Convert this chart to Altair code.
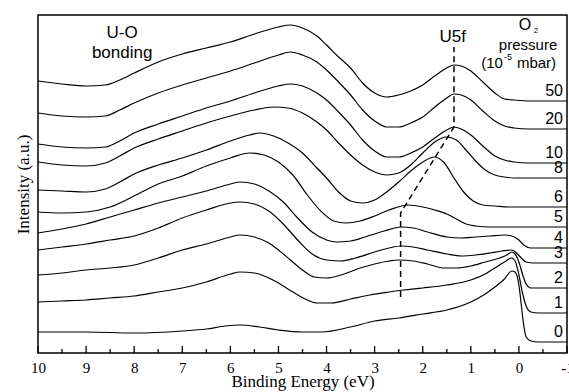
import altair as alt
import pandas as pd

# ---- data (binding energy in eV, intensity in a.u.) ----
E_TOP = [10, 9.5, 9, 8.6, 8.3, 8, 7.5, 7, 6.5, 6, 5.5, 5, 4.75, 4.5, 4.2, 4, 3.75, 3.5, 3.25, 3,
         2.75, 2.5, 2.25, 2, 1.75, 1.5, 1.35, 1.2, 1, 0.75, 0.5, 0.3, 0.1, -0.2, -1]
I_50 = [272, 269, 267, 268, 273, 280, 291, 299, 305, 311, 319, 326, 328, 325, 317, 308, 296, 285, 270, 260,
        256, 258, 262, 268, 277, 285, 288, 287, 282, 271, 260, 254, 253, 252, 252]
I_20 = [240, 237, 236, 237, 243, 250, 260, 268, 275, 282, 290, 298, 301, 298, 291, 283, 271, 258, 243, 232,
        226, 226, 230, 236, 246, 255, 259, 258, 253, 242, 232, 227, 225, 224, 224]
I_10 = [209, 206, 205, 206, 212, 220, 229, 237, 245, 252, 260, 267, 269, 267, 260, 253, 241, 228, 213, 202,
        196, 196, 200, 206, 215, 223, 226, 224, 218, 207, 197, 193, 191, 190, 190]

E_8 = [10, 9.5, 9, 8.6, 8.3, 8, 7.5, 7, 6.5, 6, 5.5, 5.1, 4.8, 4.5, 4.2, 4, 3.75, 3.5, 3.25, 3,
       2.75, 2.5, 2.25, 2, 1.75, 1.5, 1.3, 1.1, 0.9, 0.7, 0.5, 0.3, 0.1, -1]
I_8 = [191, 188, 187, 190, 197, 205, 214, 222, 230, 237, 243, 246, 245, 240, 231, 223, 210, 198, 188, 181,
       178, 180, 188, 200, 211, 216, 213, 203, 192, 183, 178, 176, 175, 175]

E_6 = [10, 9.5, 9, 8.6, 8.3, 8, 7.5, 7, 6.5, 6, 5.6, 5.4, 5.1, 4.8, 4.5, 4.2, 4, 3.75, 3.5, 3.25, 3,
       2.75, 2.5, 2.25, 2, 1.75, 1.55, 1.35, 1.15, 0.95, 0.75, 0.5, 0.2, -1]
I_6 = [163, 162, 161, 164, 171, 179, 188, 195, 203, 212, 218, 220, 217, 210, 200, 185, 175, 161, 152, 150, 153,
       161, 171, 182, 191, 196, 190, 175, 161, 152, 148, 147, 146, 146]

E_5 = [10, 9.5, 9, 8.5, 8, 7.5, 7, 6.5, 6, 5.6, 5.3, 5, 4.7, 4.4, 4.1, 3.85, 3.6, 3.3, 3, 2.7, 2.3,
       2, 1.75, 1.5, 1.3, 1.1, 0.9, 0.6, -1]
I_5 = [141, 140, 141, 146, 157, 169, 177, 187, 195, 200, 198, 191, 178, 158, 141, 132, 130, 132, 137, 143, 148,
       146, 143, 139, 134, 129, 127, 126, 126]

E_4 = [10, 9.5, 9, 8.5, 8, 7.5, 7, 6.5, 6, 5.8, 5.5, 5.2, 4.9, 4.6, 4.3, 4, 3.8, 3.5, 3.2, 2.8, 2.45,
       2.2, 1.9, 1.5, 1.2, 0.9, 0.6, 0.3, 0.15, 0, -0.1, -0.25, -1]
I_4 = [120, 124, 129, 136, 143, 150, 156, 162, 169, 171, 169, 162, 151, 135, 121, 113, 111, 112, 116, 122, 126,
       125, 121, 116, 115, 116, 117, 118, 117, 113, 108, 105, 105]

E_3 = [10, 9.5, 9, 8.5, 8, 7.5, 7, 6.5, 6, 5.8, 5.5, 5.2, 4.9, 4.6, 4.3, 4, 3.7, 3.4, 3, 2.7, 2.45,
       2.2, 1.9, 1.5, 1.2, 0.9, 0.6, 0.35, 0.15, 0.05, -0.05, -0.15, -0.3, -1]
I_3 = [103, 106, 109, 113, 117, 125, 135, 143, 150, 151, 149, 142, 129, 113, 99, 93, 92, 95, 101, 105, 107,
       106, 103, 99, 97, 98, 100, 102, 103, 100, 95, 91, 90, 90]

E_2 = [10, 9.5, 9, 8.5, 8, 7.5, 7, 6.5, 6, 5.8, 5.5, 5.2, 5, 4.75, 4.5, 4.25, 4, 3.7, 3.3, 3, 2.7, 2.5,
       2.2, 1.9, 1.55, 1.3, 1, 0.7, 0.4, 0.25, 0.15, 0.08, 0, -0.08, -0.15, -0.25, -1]
I_2 = [78, 80, 83, 85, 88, 95, 103, 109, 116, 118, 116, 110, 103, 93, 83, 76, 75, 78, 85, 89, 92, 93,
       92, 89, 85, 85, 87, 91, 95, 98, 101, 99, 91, 78, 69, 65, 65]

E_1 = [10, 9.5, 9, 8.5, 8, 7.5, 7, 6.5, 6, 5.8, 5.5, 5.2, 5, 4.7, 4.4, 4.2, 3.9, 3.5, 3.1, 2.7, 2.4, 2,
       1.5, 1, 0.7, 0.5, 0.3, 0.15, 0.07, 0, -0.07, -0.15, -0.25, -0.4, -1]
I_1 = [51, 52, 53, 55, 57, 61, 65, 71, 79, 81, 80, 75, 70, 61, 53, 50, 50, 54, 58, 61, 63, 65,
       68, 73, 79, 85, 91, 95, 91, 78, 61, 47, 41, 40, 40]

E_0 = [10, 9, 8, 7, 6.5, 6.1, 5.8, 5.4, 5, 4.5, 4.1, 3.5, 3, 2.5, 2, 1.5, 1, 0.7, 0.5, 0.3, 0.15,
       0.08, 0, -0.05, -0.1, -0.15, -0.25, -0.4, -1]
I_0 = [21, 21, 20, 22, 24, 27, 28, 26, 23, 21, 21, 26, 32, 35, 39, 43, 51, 59, 66, 74, 82,
       81, 68, 48, 28, 16, 12, 11, 11]

PRESSURES = ["50", "20", "10", "8", "6", "5", "4", "3", "2", "1", "0"]
SERIES_E = [E_TOP, E_TOP, E_TOP, E_8, E_6, E_5, E_4, E_3, E_2, E_1, E_0]
SERIES_I = [I_50, I_20, I_10, I_8, I_6, I_5, I_4, I_3, I_2, I_1, I_0]

# U5f guide (dashed)
U5F_E = [2.46, 2.46, 1.35, 1.35]
U5F_I = [56, 140, 226, 306]

MAJOR_TICKS = [10, 9, 8, 7, 6, 5, 4, 3, 2, 1, 0, -1]
MINOR_TICKS = [9.5, 8.5, 7.5, 6.5, 5.5, 4.5, 3.5, 2.5, 1.5, 0.5, -0.5]

ANNOT_TEXT = ["U-O", "bonding", "U5f", "pressure"]
ANNOT_E = [8.25, 8.25, 1.375, -0.19]
ANNOT_I = [320, 300, 316, 308]
ANNOT_SIZE = [17, 17, 17, 15]

# ---- build tables ----
rows = []
for p, es, vs in zip(PRESSURES, SERIES_E, SERIES_I):
    for k, (e, v) in enumerate(zip(es, vs)):
        rows.append({"p": p, "k": k, "E": e, "I": v})
df = pd.DataFrame(rows)

lab = pd.DataFrame({"p": PRESSURES, "E": [s[-1] for s in SERIES_E], "I": [s[-1] for s in SERIES_I]})
dash = pd.DataFrame({"k": list(range(len(U5F_E))), "E": U5F_E, "I": U5F_I})
ann = pd.DataFrame({"t": ANNOT_TEXT, "E": ANNOT_E, "I": ANNOT_I, "s": ANNOT_SIZE})
major = pd.DataFrame({"E": MAJOR_TICKS})
minor = pd.DataFrame({"E": MINOR_TICKS})

SANS = "Liberation Sans"
SERIF = "Liberation Serif"

xs = alt.Scale(domain=[-1, 10], reverse=True, nice=False, zero=False)
ys = alt.Scale(domain=[0, 338], nice=False, zero=False)

xaxis = alt.Axis(values=MAJOR_TICKS, labelExpr="datum.value + ''", ticks=False, domain=False, grid=False,
                 labelFont=SERIF, labelFontSize=15, labelColor="black", labelPadding=7,
                 labelOverlap=False, labelFlush=False,
                 title="Binding Energy (eV)", titleFont=SERIF, titleFontSize=17,
                 titleFontWeight="normal", titleColor="black", titlePadding=-2)
yaxis = alt.Axis(labels=False, ticks=False, domain=False, grid=False,
                 title="Intensity (a.u.)", titleFont=SERIF, titleFontSize=17,
                 titleFontWeight="normal", titleColor="black", titlePadding=6)

X = alt.X("E:Q", scale=xs, axis=xaxis)
Y = alt.Y("I:Q", scale=ys, axis=yaxis)

lines = alt.Chart(df).mark_line(color="black", strokeWidth=1.2, interpolate="monotone").encode(
    x=X, y=Y, detail="p:N", order="k:Q")

guide = alt.Chart(dash).mark_line(color="black", strokeWidth=1.5, strokeDash=[6, 4]).encode(
    x=alt.X("E:Q", scale=xs), y=alt.Y("I:Q", scale=ys), order="k:Q")

labels = alt.Chart(lab).mark_text(align="right", baseline="middle", dx=-4, dy=-10,
                                  font=SANS, fontSize=16, color="black").encode(
    x=alt.X("E:Q", scale=xs), y=alt.Y("I:Q", scale=ys), text="p:N")

annots = alt.Chart(ann).mark_text(align="center", baseline="middle", font=SANS, color="black").encode(
    x=alt.X("E:Q", scale=xs), y=alt.Y("I:Q", scale=ys), text="t:N",
    size=alt.Size("s:Q", scale=None, legend=None))

o_main = alt.Chart(pd.DataFrame({"E": [-0.125], "I": [328]})).mark_text(
    align="center", baseline="middle", font=SANS, fontSize=16, color="black", text="O").encode(
    x=alt.X("E:Q", scale=xs), y=alt.Y("I:Q", scale=ys))
o_sub = alt.Chart(pd.DataFrame({"E": [-0.31], "I": [322]})).mark_text(
    align="left", baseline="middle", font=SANS, fontSize=8, color="black", text="2").encode(
    x=alt.X("E:Q", scale=xs), y=alt.Y("I:Q", scale=ys))
u_a = alt.Chart(pd.DataFrame({"E": [0.333], "I": [290]})).mark_text(
    align="right", baseline="middle", font=SANS, fontSize=15, color="black", text="(10").encode(
    x=alt.X("E:Q", scale=xs), y=alt.Y("I:Q", scale=ys))
u_b = alt.Chart(pd.DataFrame({"E": [0.3125], "I": [296]})).mark_text(
    align="left", baseline="middle", font=SANS, fontSize=9, color="black", text="-5").encode(
    x=alt.X("E:Q", scale=xs), y=alt.Y("I:Q", scale=ys))
u_c = alt.Chart(pd.DataFrame({"E": [0.042], "I": [290]})).mark_text(
    align="left", baseline="middle", font=SANS, fontSize=15, color="black", text="mbar)").encode(
    x=alt.X("E:Q", scale=xs), y=alt.Y("I:Q", scale=ys))

tmaj = alt.Chart(major).mark_rule(color="black", strokeWidth=1.3).encode(
    x=alt.X("E:Q", scale=xs), y=alt.value(338), y2=alt.value(331))
tmin = alt.Chart(minor).mark_rule(color="black", strokeWidth=1.3).encode(
    x=alt.X("E:Q", scale=xs), y=alt.value(338), y2=alt.value(334))

chart = alt.layer(lines, guide, tmaj, tmin, labels, annots, o_main, o_sub, u_a, u_b, u_c).properties(
    width=529, height=338,
    autosize=alt.AutoSizeParams(type="none"),
    padding={"left": 38, "top": 15, "right": 2, "bottom": 39},
    background="white",
).configure_view(stroke="black", strokeWidth=1.5)

chart.save("out.html", embed_options={"renderer": "svg", "actions": False})
